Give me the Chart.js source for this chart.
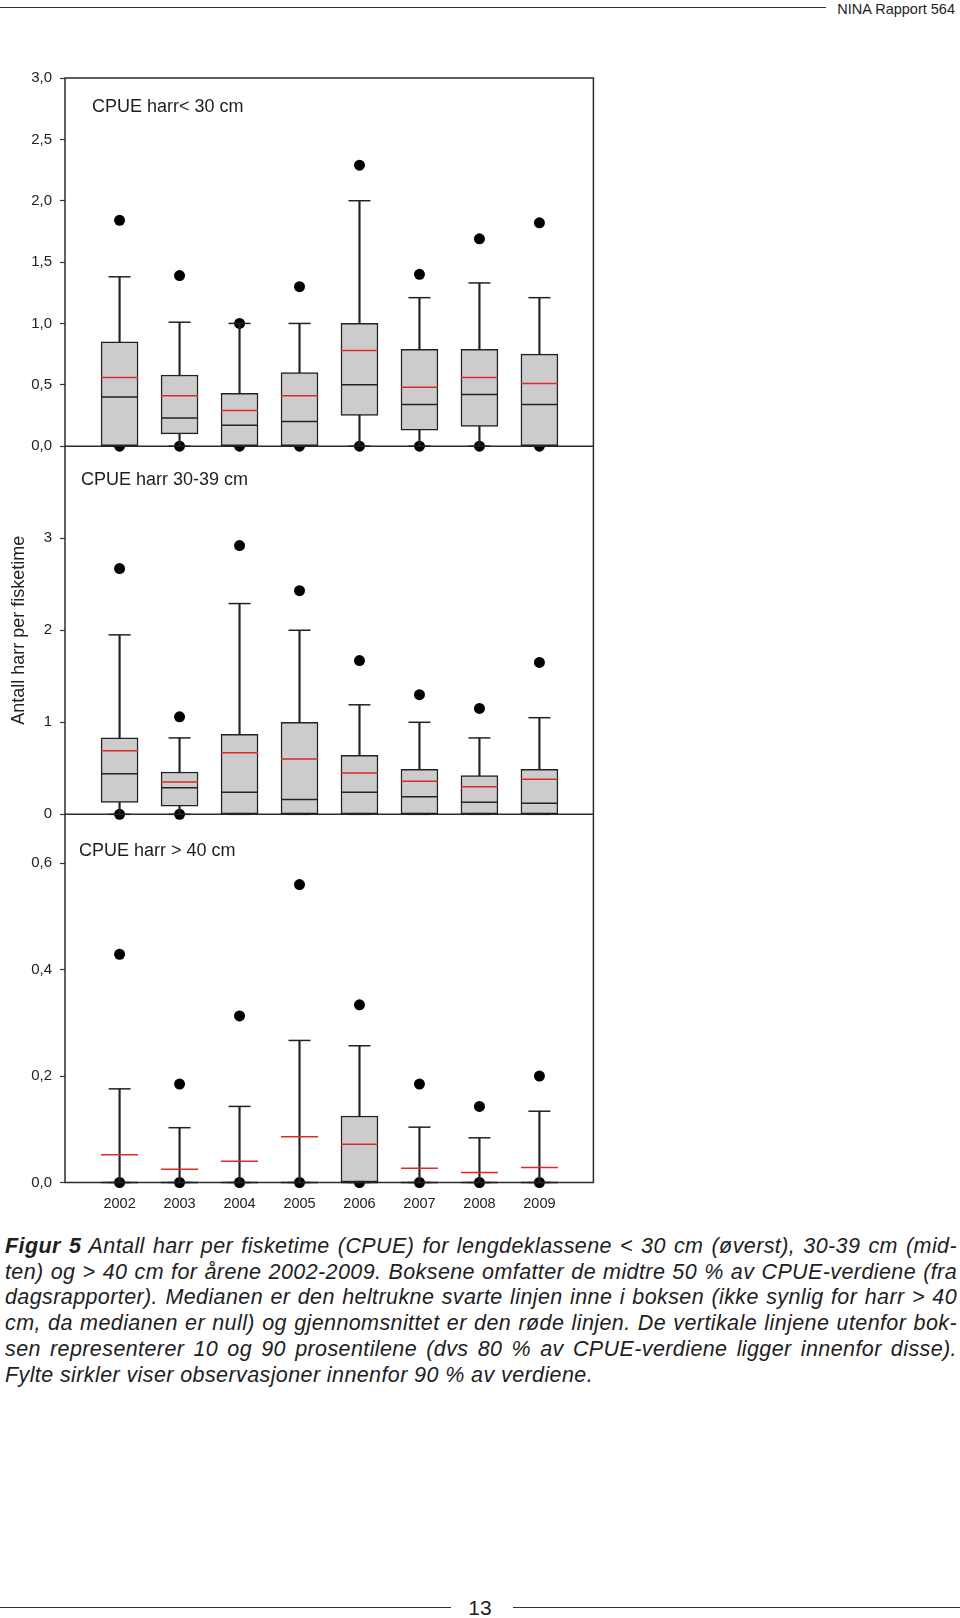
<!DOCTYPE html>
<html lang="no">
<head>
<meta charset="UTF-8">
<title>CPUE harr 2002-2009</title>
<script src="https://cdn.jsdelivr.net/npm/chart.js@4.4.1/dist/chart.umd.min.js"></script>
<style>
  body { margin: 0; background: #fff; font-family: 'Liberation Sans', Arial, sans-serif; color: #1e1e1e; }
  #page { position: relative; width: 960px; height: 1618px; overflow: hidden; }
  #chart { position: absolute; left: 0; top: 0; }
  .rule { position: absolute; height: 0; border-top: 1.5px solid #333; }
  .hdr { position: absolute; right: 5px; top: 2px; font-size: 14.5px; line-height: 14.5px; }
  .ptitle { position: absolute; font-size: 18px; line-height: 18px; white-space: nowrap; }
  .cap { position: absolute; left: 5px; top: 1234px; width: 952px; font-size: 21.5px; line-height: 25.7px;
         font-style: italic; letter-spacing: 0.4px; }
  .cap div { text-align: justify; text-align-last: justify; }
  .cap div.last { text-align-last: left; }
  .pgno { position: absolute; left: 460px; width: 40px; top: 1597px; text-align: center; font-size: 21px; line-height: 21px; }
</style>
</head>
<body>
<div id="page">
  <div class="rule" style="left:0; width:826px; top:7px; border-top-width:1.2px;"></div>
  <div class="hdr">NINA Rapport 564</div>

  <canvas id="chart" width="600" height="1215"></canvas>

  <div class="ptitle" style="left:92px; top:97px;">CPUE harr&lt; 30 cm</div>
  <div class="ptitle" style="left:81px; top:470px;">CPUE harr 30-39 cm</div>
  <div class="ptitle" style="left:79px; top:841px;">CPUE harr &gt; 40 cm</div>

  <div class="cap">
    <div><b>Figur 5</b> Antall harr per fisketime (CPUE) for lengdeklassene &lt; 30 cm (øverst), 30-39 cm (mid-</div>
    <div>ten) og &gt; 40 cm for årene 2002-2009. Boksene omfatter de midtre 50 % av CPUE-verdiene (fra</div>
    <div>dagsrapporter). Medianen er den heltrukne svarte linjen inne i boksen (ikke synlig for harr &gt; 40</div>
    <div>cm, da medianen er null) og gjennomsnittet er den røde linjen. De vertikale linjene utenfor bok-</div>
    <div>sen representerer 10 og 90 prosentilene (dvs 80 % av CPUE-verdiene ligger innenfor disse).</div>
    <div class="last">Fylte sirkler viser observasjoner innenfor 90 % av verdiene.</div>
  </div>

  <div class="rule" style="left:0; width:451px; top:1607px;"></div>
  <div class="pgno">13</div>
  <div class="rule" style="left:513px; width:447px; top:1607px;"></div>
</div>

<script>
// years on the x axis
const years = [2002, 2003, 2004, 2005, 2006, 2007, 2008, 2009];

// CPUE harr < 30 cm
const p10Small  = [0, 0, 0, 0, 0, 0, 0, 0];
const q1Small   = [0, 0.10, 0, 0, 0.25, 0.13, 0.16, 0];
const medSmall  = [0.40, 0.23, 0.17, 0.20, 0.50, 0.34, 0.42, 0.34];
const q3Small   = [0.85, 0.58, 0.43, 0.60, 1.00, 0.79, 0.79, 0.75];
const p90Small  = [1.38, 1.01, 1.00, 1.00, 2.00, 1.21, 1.33, 1.21];
const meanSmall = [0.56, 0.41, 0.29, 0.41, 0.78, 0.48, 0.56, 0.51];
const hiSmall   = [1.84, 1.39, 1.00, 1.30, 2.29, 1.40, 1.69, 1.82];
const loSmall   = [0, 0, 0, 0, 0, 0, 0, 0];

// CPUE harr 30-39 cm
const p10Mid  = [0, 0, 0, 0, 0, 0, 0, 0];
const q1Mid   = [0.13, 0.09, 0, 0, 0, 0, 0, 0];
const medMid  = [0.44, 0.29, 0.24, 0.16, 0.24, 0.19, 0.13, 0.12];
const q3Mid   = [0.83, 0.46, 0.87, 1.00, 0.64, 0.49, 0.42, 0.49];
const p90Mid  = [1.95, 0.83, 2.29, 2.00, 1.19, 1.00, 0.83, 1.05];
const meanMid = [0.69, 0.35, 0.67, 0.60, 0.45, 0.36, 0.30, 0.38];
const hiMid   = [2.67, 1.06, 2.92, 2.43, 1.67, 1.30, 1.15, 1.65];
const loMid   = [0, 0, null, null, null, null, null, null];

// CPUE harr > 40 cm
const p10Big  = [0, 0, 0, 0, 0, 0, 0, 0];
const q1Big   = [0, 0, 0, 0, 0, 0, 0, 0];
const medBig  = [0, 0, 0, 0, 0, 0, 0, 0];
const q3Big   = [0, 0, 0, 0, 0.125, 0, 0, 0];
const p90Big  = [0.176, 0.103, 0.143, 0.267, 0.257, 0.104, 0.084, 0.134];
const meanBig = [0.052, 0.025, 0.040, 0.086, 0.072, 0.027, 0.019, 0.028];
const hiBig   = [0.429, 0.185, 0.313, 0.560, 0.334, 0.185, 0.143, 0.200];
const loBig   = [0, 0, 0, 0, 0, 0, 0, 0];

// tick labels
const ticksSmall = [0, 0.5, 1, 1.5, 2, 2.5, 3];
const ticksMid = [0, 1, 2, 3];
const ticksBig = [0, 0.2, 0.4, 0.6];

const ink = '#222';
const boxFill = '#cccccc';
const red = '#dd2a26';

Chart.defaults.font.family = "'Liberation Sans', Arial, sans-serif";
Chart.defaults.color = ink;

function pts(arr) {
  return years.map((x, i) => ({x: x, y: arr[i]})).filter(p => p.y !== null);
}
function ranges(lo, hi) {
  return years.map((x, i) => ({x: x, y: [lo[i], hi[i]]}));
}
function marks(yAxisID, arr, r, color, order) {
  return {type: 'scatter', yAxisID, data: pts(arr), pointStyle: 'line', pointRadius: r,
          pointBorderColor: color, pointBorderWidth: 1.5, clip: false, order};
}

function panel(yAxisID, p10, q1, med, q3, p90, mean, hi, lo) {
  return [
    {type: 'scatter', yAxisID, data: pts(hi), pointRadius: 5.5, pointBackgroundColor: '#000',
     pointBorderWidth: 0, clip: false, order: 7},
    {type: 'scatter', yAxisID, data: pts(lo), pointRadius: 5.5, pointBackgroundColor: '#000',
     pointBorderWidth: 0, clip: false, order: 7},
    {type: 'bar', yAxisID, data: ranges(p10, p90), barThickness: 1.5, backgroundColor: ink,
     borderWidth: 0, grouped: false, clip: false, order: 6},
    marks(yAxisID, p90, 11, ink, 5),
    marks(yAxisID, p10, 11, ink, 5),
    {type: 'bar', yAxisID, data: ranges(q1, q3), barThickness: 37, backgroundColor: boxFill,
     borderColor: ink, borderWidth: 1.5, borderSkipped: false, grouped: false, clip: false, order: 4},
    marks(yAxisID, med, 18.5, ink, 3),
    marks(yAxisID, mean, 18.5, red, 2)
  ];
}

const comma = v => v.toFixed(1).replace('.', ',');

function yAxis(min, max, tickVals, fmt, extra) {
  return Object.assign({
    type: 'linear', position: 'left', stack: 'panels', stackWeight: 1,
    min, max,
    afterBuildTicks: s => { s.ticks = tickVals.map(v => ({value: v})); },
    afterFit: s => { s.width = 65; },
    ticks: {callback: fmt, font: {size: 15}, color: ink, padding: 8},
    grid: {drawOnChartArea: false, tickLength: 5, tickColor: '#333', tickWidth: 1.2},
    border: {display: false}
  }, extra || {});
}

const framePlugin = {
  id: 'frame',
  beforeDatasetsDraw(chart) {
    const {ctx, chartArea: a, scales} = chart;
    ctx.save();
    ctx.strokeStyle = '#2b2b2b';
    ctx.lineWidth = 1.5;
    ctx.strokeRect(a.left, a.top, a.width, a.height);
    ['ySmall', 'yMid'].forEach(id => {
      const yb = scales[id].getPixelForValue(0);
      ctx.beginPath();
      ctx.moveTo(a.left, yb);
      ctx.lineTo(a.right, yb);
      ctx.stroke();
    });
    ctx.restore();
  }
};

new Chart(document.getElementById('chart'), {
  type: 'bar',
  data: {
    datasets: [
      ...panel('ySmall', p10Small, q1Small, medSmall, q3Small, p90Small, meanSmall, hiSmall, loSmall),
      ...panel('yMid', p10Mid, q1Mid, medMid, q3Mid, p90Mid, meanMid, hiMid, loMid),
      ...panel('yBig', p10Big, q1Big, medBig, q3Big, p90Big, meanBig, hiBig, loBig)
    ]
  },
  options: {
    responsive: false,
    devicePixelRatio: 1,
    animation: false,
    events: [],
    layout: {autoPadding: false, padding: {top: 78, right: 6.6, left: 0, bottom: 0}},
    plugins: {legend: {display: false}, tooltip: {enabled: false}},
    scales: {
      x: {
        type: 'linear', min: 2001.09, max: 2009.9, offset: false,
        afterBuildTicks: s => { s.ticks = years.map(v => ({value: v})); },
        afterFit: s => { s.height = 32.5; },
        ticks: {callback: v => String(v), font: {size: 14.5}, color: ink, padding: 13,
                autoSkip: false, maxRotation: 0},
        grid: {display: false, drawTicks: false, offset: false},
        border: {display: false}
      },
      // stacked left axes are laid out bottom-up, so the lowest panel comes first
      yBig: yAxis(0, 0.692, ticksBig, comma),
      yMid: yAxis(0, 4, ticksMid, v => String(v), {
        title: {display: true, text: 'Antall harr per fisketime', font: {size: 18}, color: ink,
                padding: {top: 8.4, bottom: 0}}
      }),
      ySmall: yAxis(0, 3, ticksSmall, comma)
    }
  },
  plugins: [framePlugin]
});
</script>
</body>
</html>
